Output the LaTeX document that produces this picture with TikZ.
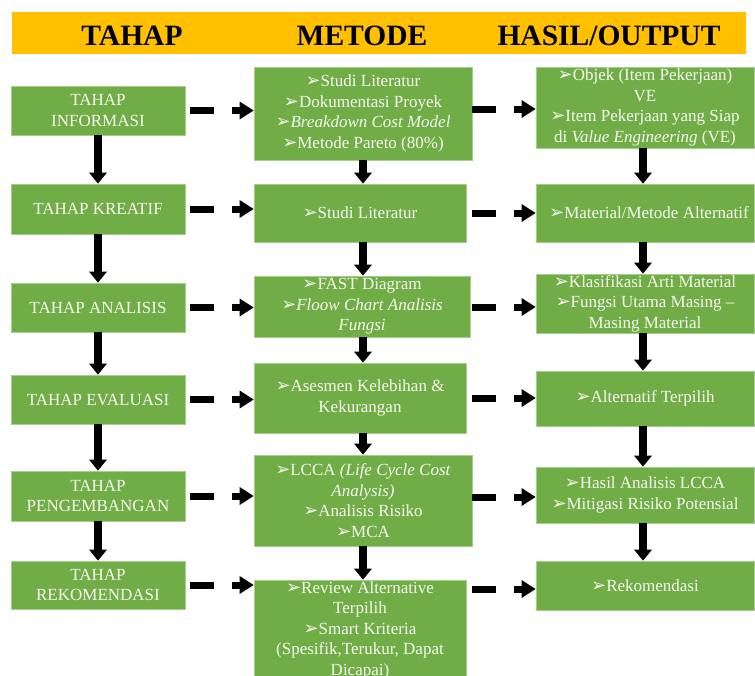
\documentclass[tikz,border=0pt]{standalone}
\usepackage{fontspec}
\setmainfont{Liberation Serif}
\newfontfamily\dvfont{DejaVu Sans}
\usetikzlibrary{arrows.meta}
\definecolor{boxgreen}{HTML}{70AD47}
\definecolor{boxedge}{HTML}{A5CF8A}
\definecolor{headyellow}{HTML}{FFC000}
\definecolor{txtwhite}{HTML}{F7F7EE}
\newcommand{\bl}{{\dvfont\fontsize{18}{18}\selectfont ➢}}
\begin{document}
\begin{tikzpicture}[x=1pt,y=-1pt,
  box/.style={draw=boxedge, line width=0.8pt, fill=boxgreen, text=txtwhite, align=center, inner sep=0pt, font=\fontsize{17}{20.5}\selectfont},
  varrow/.style={line width=8pt, -{Triangle[length=11pt,width=18pt,line width=0pt]}},
  harrow/.style={line width=7pt, dash pattern=on 24pt off 18pt on 60pt off 1pt, -{Triangle[length=14pt,width=18pt,line width=0pt]}},
  headtxt/.style={font=\fontsize{29.5}{30}\selectfont\bfseries, anchor=base, inner sep=0pt}
]
\useasboundingbox (0,0) rectangle (755,675);
\clip (0,0) rectangle (755,675);
% header
\node[fill=headyellow, minimum width=734.5pt, minimum height=42pt, inner sep=0pt] (band) at (378.75,33) {};
\node[headtxt] (h1) at (132,45) {TAHAP};
\node[headtxt] (h2) at (362,45) {METODE};
\node[headtxt] (h3) at (609,45) {HASIL/OUTPUT};
% left column
\node[box, minimum width=174pt, minimum height=49pt] (L1) at (98,110.5) {TAHAP\\INFORMASI};
\node[box, minimum width=174pt, minimum height=50pt] (L2) at (98,209) {TAHAP KREATIF};
\node[box, minimum width=174pt, minimum height=49pt] (L3) at (98,307.5) {TAHAP ANALISIS};
\node[box, minimum width=174pt, minimum height=49pt] (L4) at (98,399.5) {TAHAP EVALUASI};
\node[box, minimum width=174pt, minimum height=50pt] (L5) at (98,496) {TAHAP\\PENGEMBANGAN};
\node[box, minimum width=174pt, minimum height=48pt] (L6) at (98,585) {TAHAP\\REKOMENDASI};
% middle column
\node[box, minimum width=218pt, minimum height=93pt] (M1) at (363,113.5) {\bl Studi Literatur\\\bl Dokumentasi Proyek\\\textit{\bl Breakdown Cost Model}\\\bl Metode Pareto (80\%)};
\node[box, minimum width=212pt, minimum height=58pt] (M2) at (360,213) {\bl Studi Literatur};
\node[box, minimum width=216pt, minimum height=61pt] (M3) at (362,306.5) {\bl FAST Diagram\\\textit{\bl Floow Chart Analisis}\\\textit{Fungsi}};
\node[box, minimum width=212pt, minimum height=70pt] (M4) at (360,398) {\bl Asesmen Kelebihan \&\\Kekurangan};
\node[box, minimum width=218pt, minimum height=91pt] (M5) at (363,500.5) {\bl LCCA \textit{(Life Cycle Cost}\\\textit{Analysis)}\\\bl Analisis Risiko\\\bl MCA};
\node[box, minimum width=212pt, minimum height=100pt] (M6) at (360,630) {\bl Review Alternative\\Terpilih\\\bl Smart Kriteria\\(Spesifik,Terukur, Dapat\\Dicapai)};
% right column
\node[box, minimum width=218pt, minimum height=81pt] (R1) at (645,107.5) {\bl Objek (Item Pekerjaan)\\VE\\\bl Item Pekerjaan yang Siap\\di \textit{Value Engineering} (VE)};
\node[box, minimum width=218pt, minimum height=58pt] (R2) at (645,213) {\makebox[0pt][c]{\hspace*{8pt}\bl Material/Metode Alternatif}};
\node[box, minimum width=218pt, minimum height=59pt] (R3) at (645,303.5) {\bl Klasifikasi Arti Material\\\bl Fungsi Utama Masing --\\Masing Material};
\node[box, minimum width=218pt, minimum height=55pt] (R4) at (645,398.5) {\bl Alternatif Terpilih};
\node[box, minimum width=218pt, minimum height=56pt] (R5) at (645,495) {\bl Hasil Analisis LCCA\\\bl Mitigasi Risiko Potensial};
\node[box, minimum width=218pt, minimum height=49pt] (R6) at (645,585.5) {\bl Rekomendasi};
% helper coordinates
\coordinate (mx) at (363,0);
\coordinate (rx) at (643,0);
\coordinate (r1) at (0,109);
\coordinate (r2) at (0,213);
\coordinate (r3) at (0,307);
\coordinate (r4) at (0,398);
\coordinate (r5) at (0,497);
\coordinate (r6) at (0,589);
% vertical arrows
\draw[varrow] (L1.south) -- (L2.north);
\draw[varrow] (L2.south) -- (L3.north);
\draw[varrow] (L3.south) -- (L4.north);
\draw[varrow] (L4.south) -- (L5.north);
\draw[varrow] (L5.south) -- (L6.north);
\draw[varrow] (M1.south -| mx) -- (M2.north -| mx);
\draw[varrow] (M2.south -| mx) -- (M3.north -| mx);
\draw[varrow] (M3.south -| mx) -- (M4.north -| mx);
\draw[varrow] (M4.south -| mx) -- (M5.north -| mx);
\draw[varrow] (M5.south -| mx) -- (M6.north -| mx);
\draw[varrow] (R1.south -| rx) -- (R2.north -| rx);
\draw[varrow] (R2.south -| rx) -- (R3.north -| rx);
\draw[varrow] (R3.south -| rx) -- (R4.north -| rx);
\draw[varrow] (R4.south -| rx) -- (R5.north -| rx);
\draw[varrow] (R5.south -| rx) -- (R6.north -| rx);
% dashed arrows left -> middle
\draw[harrow, shorten <=5pt] (L1.east) -- (L1.east -| M1.west);
\draw[harrow, shorten <=5pt] (L2.east) -- (L2.east -| M2.west);
\draw[harrow, shorten <=5pt] (L3.east) -- (L3.east -| M3.west);
\draw[harrow, shorten <=5pt] (L4.east) -- (L4.east -| M4.west);
\draw[harrow, shorten <=5pt] (L5.east) -- (L5.east -| M5.west);
\draw[harrow, shorten <=5pt] (L6.east) -- (L6.east -| M6.west);
% dashed arrows middle -> right
\draw[harrow] (M1.east |- r1) -- (R1.west |- r1);
\draw[harrow, shorten <=6pt] (M2.east |- r2) -- (R2.west |- r2);
\draw[harrow, shorten <=2pt] (M3.east |- r3) -- (R3.west |- r3);
\draw[harrow, shorten <=6pt] (M4.east |- r4) -- (R4.west |- r4);
\draw[harrow] (M5.east |- r5) -- (R5.west |- r5);
\draw[harrow, shorten <=6pt] (M6.east |- r6) -- (R6.west |- r6);
\end{tikzpicture}
\end{document}
